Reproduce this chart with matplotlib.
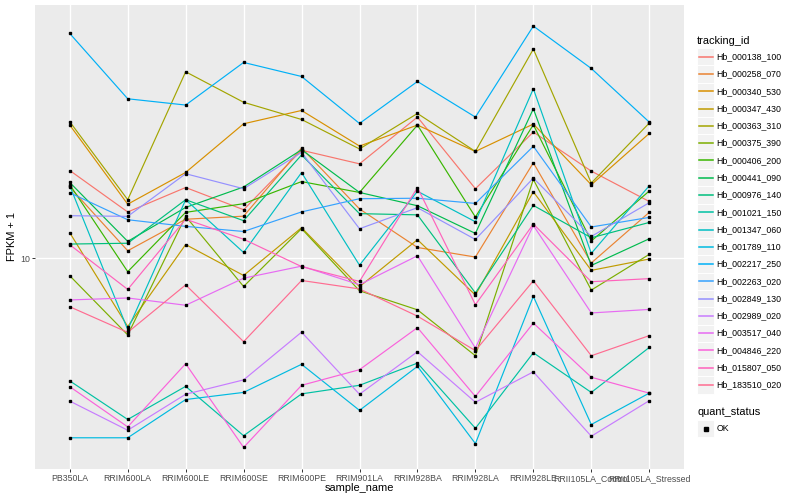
import matplotlib
matplotlib.use("Agg")
import numpy as np
import matplotlib.pyplot as plt
from matplotlib.patches import Rectangle
from matplotlib.lines import Line2D
from matplotlib.ticker import NullLocator, FixedLocator

plt.rcParams['font.family'] = ['Liberation Sans', 'DejaVu Sans']

samples = ['PB350LA', 'RRIM600LA', 'RRIM600LE', 'RRIM600SE', 'RRIM600PE', 'RRIM901LA',
           'RRIM928BA', 'RRIM928LA', 'RRIM928LE', 'RRII105LA_Control', 'RRII105LA_Stressed']

tracking_ids = ['Hb_000138_100', 'Hb_000258_070', 'Hb_000340_530', 'Hb_000347_430',
                'Hb_000363_310', 'Hb_000375_390', 'Hb_000406_200', 'Hb_000441_090',
                'Hb_000976_140', 'Hb_001021_150', 'Hb_001347_060', 'Hb_001789_110',
                'Hb_002217_250', 'Hb_002263_020', 'Hb_002849_130', 'Hb_002989_020',
                'Hb_003517_040', 'Hb_004846_220', 'Hb_015807_050', 'Hb_183510_020']

colors = ['#F8766D', '#EA8331', '#D89000', '#C09B00', '#A3A500', '#7CAE00', '#39B600',
          '#00BB4E', '#00BF7D', '#00C1A3', '#00BFC4', '#00BAE0', '#00B0F6', '#35A2FF',
          '#9590FF', '#C77CFF', '#E76BF3', '#FA62DB', '#FF62BC', '#FF6C91']

# FPKM + 1 per sample (order of `samples`)
Hb_000138_100 = [19.61, 14.26, 17.21, 14.51, 22.91, 20.64, 29.55, 17.05, 26.34, 19.52, 15.46]
Hb_000258_070 = [17.26, 10.59, 13.49, 13.81, 23.30, 14.60, 10.86, 10.09, 20.81, 9.64, 14.22]
Hb_000340_530 = [27.79, 15.14, 19.32, 28.07, 31.09, 23.66, 27.79, 22.70, 28.01, 17.58, 26.06]
Hb_000347_430 = [12.16, 5.92, 11.11, 8.76, 12.64, 8.04, 11.53, 7.54, 16.66, 9.11, 9.94]
Hb_000363_310 = [28.51, 15.67, 41.84, 33.11, 29.01, 23.14, 30.38, 22.70, 49.81, 17.81, 28.22]
Hb_000375_390 = [8.74, 5.55, 13.79, 8.05, 12.55, 7.79, 6.73, 4.73, 18.31, 7.83, 10.30]
Hb_000406_200 = [17.58, 9.02, 14.22, 15.20, 18.01, 16.57, 27.79, 13.72, 27.86, 11.41, 16.75]
Hb_000441_090 = [17.89, 11.38, 14.77, 17.28, 23.00, 16.57, 14.96, 12.10, 31.50, 9.46, 11.61]
Hb_000976_140 = [11.15, 11.22, 15.67, 13.34, 22.10, 14.08, 13.95, 7.66, 15.00, 11.70, 13.16]
Hb_001021_150 = [3.90, 2.90, 3.74, 2.56, 3.53, 3.77, 4.47, 2.71, 4.84, 3.57, 5.04]
Hb_001347_060 = [17.44, 5.78, 15.67, 10.45, 19.30, 9.48, 16.72, 13.23, 36.73, 10.38, 17.44]
Hb_001789_110 = [2.52, 2.52, 3.38, 3.57, 4.43, 3.11, 4.36, 2.41, 7.46, 2.79, 3.55]
Hb_002217_250 = [56.14, 34.01, 32.41, 44.95, 40.36, 28.14, 38.84, 29.55, 59.43, 42.92, 28.44]
Hb_002263_020 = [16.53, 13.44, 12.77, 12.28, 14.27, 15.79, 15.85, 15.23, 23.62, 12.71, 13.68]
Hb_002849_130 = [13.86, 13.79, 19.13, 17.05, 22.53, 12.54, 14.74, 11.55, 18.50, 11.82, 15.31]
Hb_002989_020 = [3.34, 2.67, 3.52, 3.93, 5.67, 3.52, 4.88, 3.31, 4.18, 2.55, 3.35]
Hb_003517_040 = [7.26, 7.37, 6.97, 8.58, 9.41, 8.16, 10.19, 5.02, 12.86, 6.57, 6.75]
Hb_004846_220 = [3.73, 2.74, 4.45, 2.34, 3.77, 4.25, 5.87, 3.46, 6.08, 4.01, 3.55]
Hb_015807_050 = [11.09, 7.87, 13.49, 11.57, 9.38, 8.37, 17.21, 7.00, 13.00, 8.35, 8.55]
Hb_183510_020 = [6.89, 5.66, 8.15, 5.27, 8.43, 7.90, 6.41, 4.92, 8.41, 4.73, 5.52]

series = [Hb_000138_100, Hb_000258_070, Hb_000340_530, Hb_000347_430, Hb_000363_310,
          Hb_000375_390, Hb_000406_200, Hb_000441_090, Hb_000976_140, Hb_001021_150,
          Hb_001347_060, Hb_001789_110, Hb_002217_250, Hb_002263_020, Hb_002849_130,
          Hb_002989_020, Hb_003517_040, Hb_004846_220, Hb_015807_050, Hb_183510_020]

y_ticks = [10]
y_ticklabels = ['10']

W, H = 800, 500
fig = plt.figure(figsize=(W / 100, H / 100), dpi=100)

def fx(px):
    return px / W

def fy(py):
    return 1 - py / H

PL, PR, PT, PB = 35, 684, 5, 468.5
ax = fig.add_axes([fx(PL), fy(PB), (PR - PL) / W, (PB - PT) / H])
ax.set_facecolor('#EBEBEB')
for s in ax.spines.values():
    s.set_visible(False)

x = np.arange(len(samples))
for vals, c in zip(series, colors):
    ax.plot(x, vals, color=c, lw=0.85, zorder=3, solid_capstyle='butt')
for vals in series:
    ax.plot(x, vals, linestyle='none', marker='s', ms=2.0, color='black', zorder=4)

ax.set_yscale('log')
allv = np.concatenate([np.asarray(v, float) for v in series])
lo, hi = np.log10(allv.min()), np.log10(allv.max())
pad = 0.05 * (hi - lo)
ax.set_ylim(10 ** (lo - pad), 10 ** (hi + pad))
ax.set_xlim(-0.6, len(samples) - 1 + 0.6)

ax.yaxis.set_major_locator(FixedLocator(y_ticks))
ax.yaxis.set_minor_locator(NullLocator())
ax.set_yticklabels(y_ticklabels)
ax.set_xticks(x)
ax.set_xticklabels(samples)
ax.xaxis.set_minor_locator(NullLocator())

ax.grid(True, which='major', color='white', lw=1.0, zorder=1)
ax.set_axisbelow(True)
ax.tick_params(axis='both', which='major', length=2.0, width=0.7, color='#333333',
               labelsize=6.3, labelcolor='#4D4D4D', pad=1.8)

fig.text(fx((PL + PR) / 2), fy(488), 'sample_name', fontsize=7.9, ha='center', va='center')
fig.text(fx(12), fy((PT + PB) / 2), 'FPKM + 1', fontsize=7.9, ha='center', va='center',
         rotation=90)

# legend: tracking_id
key = 17.28
fig.text(fx(697), fy(40.7), 'tracking_id', fontsize=7.9, ha='left', va='center')
for i, (tid, c) in enumerate(zip(tracking_ids, colors)):
    cy = 56.7 + key * i
    fig.add_artist(Rectangle((fx(697), fy(cy + key / 2)), key / W, key / H,
                             transform=fig.transFigure, facecolor='#F2F2F2',
                             edgecolor='white', lw=0.7, zorder=1))
    fig.add_artist(Line2D([fx(698.7), fx(712.6)], [fy(cy), fy(cy)],
                          transform=fig.transFigure, color=c, lw=1.1, zorder=2))
    fig.text(fx(716.7), fy(cy), tid, fontsize=6.3, ha='left', va='center')

# legend: quant_status
fig.text(fx(697), fy(412.3), 'quant_status', fontsize=7.9, ha='left', va='center')
cy = 428.7
fig.add_artist(Rectangle((fx(697), fy(cy + key / 2)), key / W, key / H,
                         transform=fig.transFigure, facecolor='#F2F2F2',
                         edgecolor='white', lw=0.7, zorder=1))
fig.add_artist(Line2D([fx(705.6)], [fy(cy)], transform=fig.transFigure, marker='s',
                      ms=2.4, color='black', linestyle='none', zorder=2))
fig.text(fx(716.7), fy(cy), 'OK', fontsize=6.3, ha='left', va='center')

fig.savefig('out.png', dpi=100, facecolor='white')
